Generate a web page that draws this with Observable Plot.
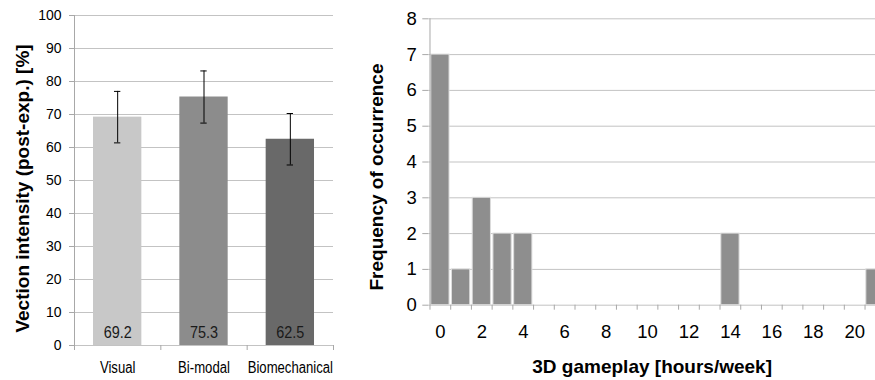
<!DOCTYPE html>
<html>
<head>
<meta charset="utf-8">
<script src="https://cdn.jsdelivr.net/npm/d3@7"></script>
<script src="https://cdn.jsdelivr.net/npm/@observablehq/plot@0.6"></script>
<style>
  html, body { margin: 0; padding: 0; background: white; overflow: hidden; }
  #wrap { display: flex; flex-direction: row; width: 875px; height: 380px; overflow: hidden; }
  #wrap svg { flex: none; max-width: none; }
</style>
</head>
<body>
<div id="wrap"></div>
<script>
// ---- Left chart data ----
const categories = ["Visual", "Bi-modal", "Biomechanical"];
const means = [69.2, 75.3, 62.5];
const errors = [7.8, 7.9, 7.8];
const barColors = ["#c8c8c8", "#8c8c8c", "#696969"];
const yTicksLeft = [0, 10, 20, 30, 40, 50, 60, 70, 80, 90, 100];

// ---- Right chart data ----
const hours = [0, 1, 2, 3, 4, 5, 6, 7, 8, 9, 10, 11, 12, 13, 14, 15, 16, 17, 18, 19, 20, 21];
const freq  = [7, 1, 3, 2, 2, 0, 0, 0, 0, 0, 0, 0, 0, 0, 2, 0, 0, 0, 0, 0, 0, 1];
const hourTickLabels = [0, 2, 4, 6, 8, 10, 12, 14, 16, 18, 20];
const yTicksRight = [0, 1, 2, 3, 4, 5, 6, 7, 8];

const SANS = "'Liberation Sans', Arial, sans-serif";
const gridColor = "#c3c3c3";
const axisColor = "#a8a8a8";

const left = categories.map((c, i) => ({cat: c, mean: means[i], err: errors[i], color: barColors[i]}));

// Left plot geometry
const L = {width: 360, height: 380, ml: 74, mr: 27, mt: 15, mb: 35};
const stepL = (L.width - L.ml - L.mr) / categories.length;

const plotLeft = Plot.plot({
  width: L.width, height: L.height,
  marginLeft: L.ml, marginRight: L.mr, marginTop: L.mt, marginBottom: L.mb,
  style: {fontFamily: SANS, background: "white", color: "black", overflow: "visible"},
  x: {domain: categories, paddingInner: 0.44, paddingOuter: 0.22, round: false, axis: null},
  y: {domain: [0, 100], axis: null},
  color: {type: "identity"},
  marks: [
    Plot.ruleY(yTicksLeft, {stroke: gridColor, strokeWidth: 1}),
    Plot.barY(left, {x: "cat", y: "mean", fill: "color"}),
    Plot.ruleX([categories[0]], {dx: -stepL / 2, stroke: axisColor}),
    Plot.axisY(yTicksLeft, {tickSize: 5, tickPadding: 8, fontSize: 14, stroke: axisColor, label: null}),
    Plot.axisX({tickSize: 5, tickFormat: () => "", dx: -stepL / 2, stroke: axisColor, label: null}),
    Plot.axisX([categories[categories.length - 1]], {tickSize: 5, tickFormat: () => "", dx: stepL / 2, stroke: axisColor, label: null}),
    Plot.axisX({tickSize: 0, tickPadding: 16.5, fontSize: 16, label: null, className: "narrow82"}),
    Plot.ruleX(left, {x: "cat", y1: d => d.mean - d.err, y2: d => d.mean + d.err, stroke: "black", strokeWidth: 1}),
    Plot.tickY(left, {x: "cat", y: d => d.mean + d.err, inset: 21, stroke: "black", strokeWidth: 1}),
    Plot.tickY(left, {x: "cat", y: d => d.mean - d.err, inset: 21, stroke: "black", strokeWidth: 1}),
    Plot.text(left, {x: "cat", y: () => 0, text: d => d.mean.toFixed(1), dy: -12.5, fontSize: 16, lineAnchor: "middle", fill: "#1a1a1a", className: "narrow90"}),
    Plot.text(["Vection intensity (post-exp.) [%]"], {frameAnchor: "left", textAnchor: "middle", rotate: -90, dx: -52, dy: 8, fontSize: 19, fontWeight: "bold", fill: "black", lineAnchor: "middle"})
  ]
});

// Right plot geometry
const R = {width: 515, height: 380, ml: 68.3, mt: 18.3, mb: 75.3};
const stepR = 20.83;
const right = hours.map((h, i) => ({h, f: freq[i]}));

const plotRight = Plot.plot({
  width: R.width, height: R.height,
  marginLeft: R.ml, marginRight: 0, marginTop: R.mt, marginBottom: R.mb,
  style: {fontFamily: SANS, background: "white", color: "black", overflow: "visible"},
  x: {type: "band", domain: hours, range: [R.ml, R.ml + stepR * hours.length], padding: 0.12, round: false, axis: null},
  y: {domain: [0, 8], axis: null},
  marks: [
    Plot.ruleY(yTicksRight, {stroke: gridColor, strokeWidth: 1}),
    Plot.barY(right, {x: "h", y: "f", fill: "#8e8e8e", stroke: "#dcdcdc", strokeWidth: 1}),
    Plot.ruleX([hours[0]], {dx: -stepR / 2, stroke: axisColor}),
    Plot.axisY(yTicksRight, {tickSize: 6, tickPadding: 6, fontSize: 18.5, stroke: axisColor, label: null}),
    Plot.axisX({tickSize: 5, tickFormat: () => "", dx: -stepR / 2, stroke: axisColor, label: null}),
    Plot.axisX(hourTickLabels, {tickSize: 0, tickPadding: 20, fontSize: 18.5, label: null}),
    Plot.text(["Frequency of occurrence"], {frameAnchor: "left", textAnchor: "middle", rotate: -90, dx: -52, dy: 15, fontSize: 19, fontWeight: "bold", fill: "black", lineAnchor: "middle"}),
    Plot.text(["3D gameplay [hours/week]"], {frameAnchor: "bottom", dy: 61.5, fontSize: 19, fontWeight: "bold", fill: "black", lineAnchor: "middle"})
  ]
});

document.getElementById("wrap").append(plotLeft, plotRight);

// Condense the narrow-font labels horizontally (no narrow font installed)
function condense(selector, factor) {
  document.querySelectorAll(selector + " text").forEach(t => {
    const w = t.getComputedTextLength();
    if (w > 0) {
      t.setAttribute("textLength", (w * factor).toFixed(2));
      t.setAttribute("lengthAdjust", "spacingAndGlyphs");
    }
  });
}
condense(".narrow82", 0.82);
condense(".narrow90", 0.9);
</script>
</body>
</html>
